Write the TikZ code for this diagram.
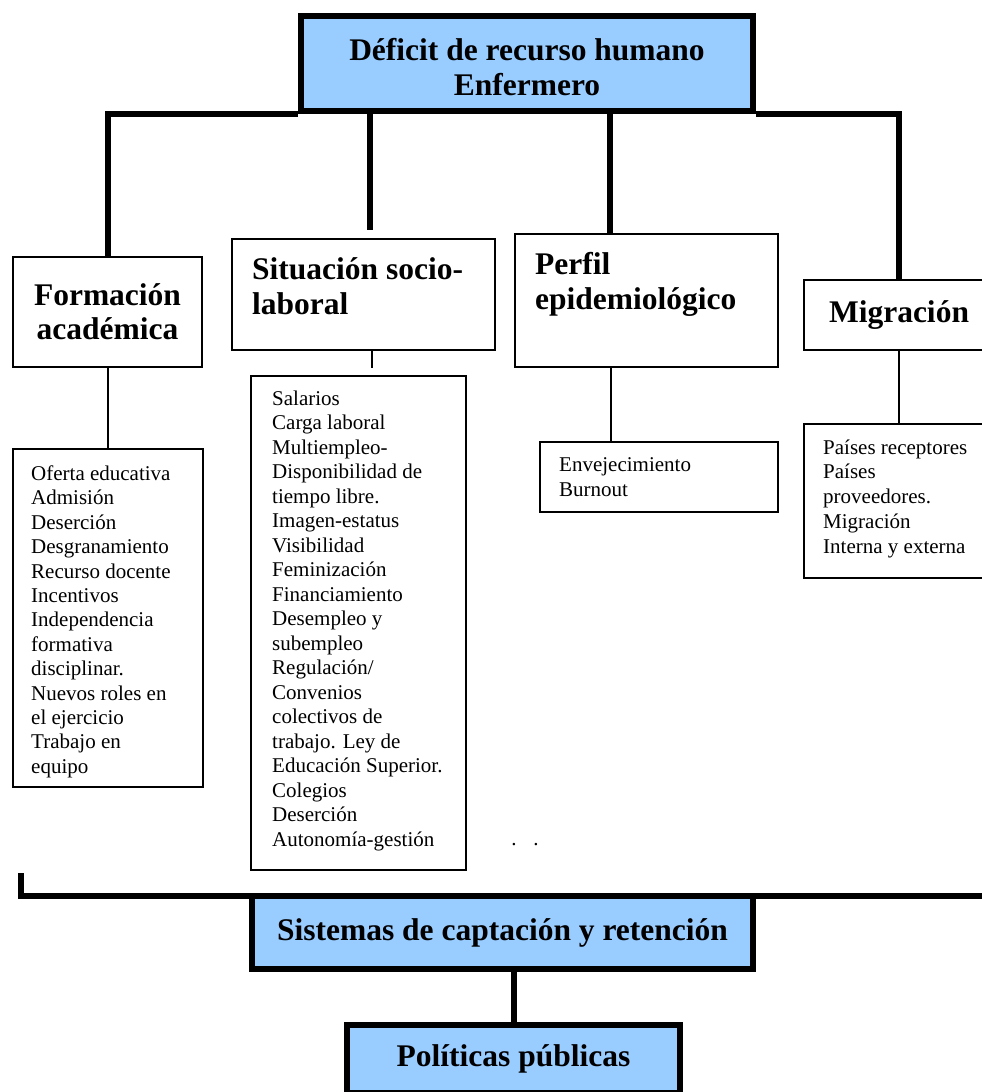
\documentclass[tikz,border=0pt]{standalone}
\usepackage{fontspec}
\setmainfont{Liberation Serif}
\definecolor{boxblue}{HTML}{99CCFF}
\tikzset{
  mainbox/.style={draw=black, line width=6pt, fill=boxblue, inner sep=0pt, rectangle},
  headbox/.style={draw=black, line width=2.5pt, fill=white, inner sep=0pt, rectangle},
  listbox/.style={draw=black, line width=2pt, fill=white, inner sep=0pt, rectangle},
  thickline/.style={line width=6pt},
  thinline/.style={line width=2pt},
  headtext/.style={font=\fontsize{31.5}{35}\selectfont\bfseries, inner sep=0pt, align=left},
  listtext/.style={font=\fontsize{21}{24.4}\selectfont, inner sep=0pt, align=left},
}
\begin{document}
\begin{tikzpicture}[x=1pt,y=-1pt]
\useasboundingbox (0,0) rectangle (982,1092);
\fill[white] (0,0) rectangle (982,1092);
\clip (0,0) rectangle (982,1092);

% top box
\node[mainbox, minimum width=452pt, minimum height=95pt] (d) at (527,63.5) {};
\node[headtext, align=center] (dt) at (527,67) {Déficit de recurso humano\\Enfermero};

% heading boxes
\node[headbox, minimum width=189pt, minimum height=110pt, font=\fontsize{31.5}{34}\selectfont\bfseries, align=center] (fa) at (107.5,312) {Formación\\académica};
\node[headbox, minimum width=263pt, minimum height=111pt] (sit) at (363.5,294.5) {};
\node[headtext, anchor=north west] (sitt) at (252,257.5) {Situación socio-\\laboral};
\node[headbox, minimum width=263pt, minimum height=133pt] (per) at (646.5,300.5) {};
\node[headtext, anchor=north west, font=\fontsize{31.5}{35}\selectfont\bfseries] (pert) at (535,252.5) {Perfil\\epidemiológico};
\node[headbox, minimum width=190pt, minimum height=70pt, font=\fontsize{31.5}{35}\selectfont\bfseries] (mig) at (899,315) {Migración};

% thick connectors from the top box
\coordinate (j2) at (370,0);
\coordinate (j3) at (610,0);
\draw[thickline] (fa.north) |- (d.south west);
\draw[thickline] (mig.north) |- (d.south east);
\draw[thickline, shorten >=8pt] (d.south -| j2) -- (sit.north -| j2);
\draw[thickline] (d.south -| j3) -- (per.north -| j3);

% list boxes
\node[listbox, minimum width=190pt, minimum height=338pt] (fl) at (107.5,618) {};
\node[listtext, anchor=north west] (flt) at (31,465.5) {Oferta educativa\\Admisión\\Deserción\\Desgranamiento\\Recurso docente\\Incentivos\\Independencia\\formativa\\disciplinar.\\Nuevos roles en\\el ejercicio\\Trabajo en\\equipo};

\node[listbox, minimum width=215pt, minimum height=494pt] (sl) at (358.5,623) {};
\node[listtext, anchor=north west, font=\fontsize{21}{24.5}\selectfont] (slt) at (272,390.7) {Salarios\\Carga laboral\\Multiempleo-\\Disponibilidad de\\tiempo libre.\\Imagen-estatus\\Visibilidad\\Feminización\\Financiamiento\\Desempleo y\\subempleo\\Regulación/\\Convenios\\colectivos de\\trabajo. Ley de\\Educación Superior.\\Colegios\\Deserción\\Autonomía-gestión};

\node[listbox, minimum width=238pt, minimum height=70pt] (pl) at (659,477) {};
\node[listtext, anchor=north west, font=\fontsize{21}{25}\selectfont] (plt) at (559,457.7) {Envejecimiento\\Burnout};

\node[listbox, minimum width=190pt, minimum height=154pt] (ml) at (899,501) {};
\node[listtext, anchor=north west, font=\fontsize{21}{24.75}\selectfont] (mlt) at (823,439.4) {Países receptores\\Países\\proveedores.\\Migración\\Interna y externa};

\node[listtext] (dots) at (525,845) {.\hspace{17pt}.};

% thin connectors
\coordinate (k2) at (372,0);
\coordinate (k3) at (611,0);
\draw[thinline] (fa.south) -- (fa.south |- fl.north);
\draw[thinline, shorten >=7pt] (sit.south -| k2) -- (sl.north -| k2);
\draw[thinline] (per.south -| k3) -- (pl.north -| k3);
\draw[thinline] (mig.south) -- (ml.north);

% bottom
\node[mainbox, minimum width=501pt, minimum height=73pt, font=\fontsize{31.5}{35}\selectfont\bfseries] (sis) at (502.5,932.5) {Sistemas de captación y retención};
\node[mainbox, minimum width=333pt, minimum height=68pt, font=\fontsize{31.5}{35}\selectfont\bfseries] (pol) at (513.5,1059) {Políticas públicas};
\coordinate (bl) at (21,873);
\coordinate (br) at (995,896);
\draw[thickline] (bl) |- (br);
\draw[thickline] (pol.north) -- (pol.north |- sis.south);
\end{tikzpicture}
\end{document}
